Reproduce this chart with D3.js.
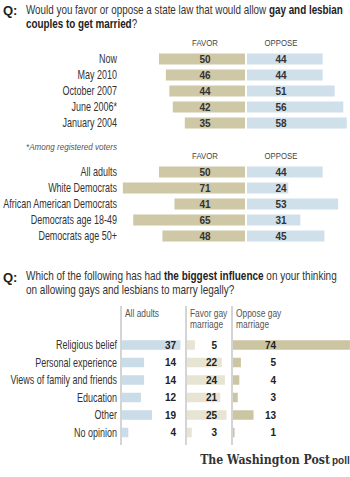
<!DOCTYPE html>
<html><head><meta charset="utf-8">
<script src="https://cdn.jsdelivr.net/npm/d3@7"></script>
<style>
body{margin:0;background:#fff;}
svg{display:block;}
text{font-family:"Liberation Sans",Arial,sans-serif;fill:#333;}
</style></head>
<body>
<script>
// ---- Data ----
const timeCategories = ["Now","May 2010","October 2007","June 2006*","January 2004"];
const timeFavor = [50,46,44,42,35];
const timeOppose = [44,44,51,56,58];

const groupCategories = ["All adults","White Democrats","African American Democrats","Democrats age 18-49","Democrats age 50+"];
const groupFavor = [50,71,41,65,48];
const groupOppose = [44,24,53,31,45];

const influenceCategories = ["Religious belief","Personal experience","Views of family and friends","Education","Other","No opinion"];
const influenceAll = [37,14,14,12,19,4];
const influenceFavor = [5,22,24,21,25,3];
const influenceOppose = [74,5,4,3,13,1];

const topHeaders = ["FAVOR","OPPOSE"];
const bottomHeaders = [["All adults"],["Favor gay","marriage"],["Oppose gay","marriage"]];

// ---- Setup ----
const W=350,H=477;
const svg=d3.select("body").append("svg").attr("width",W).attr("height",H);

const cFavor="#cec8a7", cOppose="#d0e0ea";
const cAll="#cadce8", cFavLight="#e7e4d3", cOppDark="#cbc5a2";

function squeeze(t,f,ax){t.attr("transform",`translate(${ax},0) scale(${f},1) translate(${-ax},0)`);return t;}
function widthOf(t){return t.node().getComputedTextLength();}

const LFS=13;
const probe=svg.append("text").attr("font-size",LFS).text("African American Democrats");
const LF=114/widthOf(probe); probe.remove();

// Title 1
svg.append("text").attr("x",3).attr("y",15).attr("font-size",13).attr("font-weight","bold").style("fill","#222").text("Q:");
let t1=svg.append("text").attr("x",26).attr("y",14).attr("font-size",12.5);
t1.append("tspan").text("Would you favor or oppose a state law that would allow ");
t1.append("tspan").attr("font-weight","bold").style("fill","#222").text("gay and lesbian");
const TF=317/widthOf(t1);
squeeze(t1,TF,26);
let t1b=svg.append("text").attr("x",26).attr("y",28).attr("font-size",12.5);
t1b.append("tspan").attr("font-weight","bold").style("fill","#222").text("couples to get married");
t1b.append("tspan").text("?");
squeeze(t1b,TF,26);

// ---- Top butterfly charts ----
const xTop=d3.scaleLinear().domain([0,100]).range([0,172]);
const midL=245, midR=247;
const barH=11;

function butterfly(y0,cats,fav,opp,headerY){
  const y=d3.scalePoint().domain(cats).range([y0,y0+16*(cats.length-1)]);
  svg.selectAll(null).data(topHeaders).enter().append("text")
    .attr("x",(d,i)=>i?281:205).attr("y",headerY).attr("text-anchor","middle")
    .attr("font-size",9.5).style("fill","#444").text(d=>d)
    .each(function(d,i){squeeze(d3.select(this),0.82,i?281:205);});
  const g=svg.append("g");
  g.selectAll(".lab").data(cats).enter().append("text")
    .attr("x",117).attr("y",d=>y(d)+4.5).attr("text-anchor","end").attr("font-size",LFS).text(d=>d)
    .each(function(){squeeze(d3.select(this),LF,117);});
  g.selectAll(".fb").data(fav).enter().append("rect")
    .attr("x",d=>midL-xTop(d)).attr("y",(d,i)=>y(cats[i])-barH/2).attr("width",d=>xTop(d)).attr("height",barH).attr("fill",cFavor);
  g.selectAll(".ob").data(opp).enter().append("rect")
    .attr("x",midR).attr("y",(d,i)=>y(cats[i])-barH/2).attr("width",d=>xTop(d)).attr("height",barH).attr("fill",cOppose);
  g.selectAll(".fv").data(fav).enter().append("text")
    .attr("x",205).attr("y",(d,i)=>y(cats[i])+3.5).attr("text-anchor","middle").attr("font-size",10).attr("font-weight","bold")
    .style("fill","#333").text(d=>d);
  g.selectAll(".ov").data(opp).enter().append("text")
    .attr("x",281).attr("y",(d,i)=>y(cats[i])+3.5).attr("text-anchor","middle").attr("font-size",10).attr("font-weight","bold")
    .style("fill","#333").text(d=>d);
}
butterfly(59,timeCategories,timeFavor,timeOppose,46);
squeeze(svg.append("text").attr("x",117).attr("y",150).attr("text-anchor","end").attr("font-size",9.5).attr("font-style","italic")
  .style("fill","#555").text("*Among registered voters"),0.85,117);
butterfly(172,groupCategories,groupFavor,groupOppose,159);

// Title 2
svg.append("text").attr("x",3).attr("y",282).attr("font-size",13).attr("font-weight","bold").style("fill","#222").text("Q:");
let t2=svg.append("text").attr("x",26).attr("y",280).attr("font-size",12.5);
t2.append("tspan").text("Which of the following has had ");
t2.append("tspan").attr("font-weight","bold").style("fill","#222").text("the biggest influence");
t2.append("tspan").text(" on your thinking");
const TF2=311/widthOf(t2);
squeeze(t2,TF2,26);
squeeze(svg.append("text").attr("x",26).attr("y",294).attr("font-size",12.5).text("on allowing gays and lesbians to marry legally?"),TF2,26);

// ---- Bottom chart ----
const xB=d3.scaleLinear().domain([0,100]).range([0,158]);
const yB=d3.scalePoint().domain(influenceCategories).range([345,432.5]);
const colX=[121,186,232];
const bh=9.5;
svg.selectAll(".vl").data(colX).enter().append("line")
  .attr("x1",d=>d).attr("x2",d=>d).attr("y1",306).attr("y2",445).attr("stroke","#aaa").attr("stroke-width",1);
bottomHeaders.forEach((lines,i)=>{
  const ax=colX[i]+4;
  const t=svg.append("text").attr("x",ax).attr("y",317).attr("font-size",10.5).style("fill","#555");
  lines.forEach((l,j)=>t.append("tspan").attr("x",ax).attr("dy",j?11.5:0).text(l));
  squeeze(t,0.8,ax);
});
svg.selectAll(".bl").data(influenceCategories).enter().append("text")
  .attr("x",117).attr("y",d=>yB(d)+4.5).attr("text-anchor","end").attr("font-size",LFS).text(d=>d)
  .each(function(){squeeze(d3.select(this),LF,117);});

const cols=[
  {vals:influenceAll,color:cAll,x0:122,numX:176},
  {vals:influenceFavor,color:cFavLight,x0:187,numX:217},
  {vals:influenceOppose,color:cOppDark,x0:233,numX:276}
];
cols.forEach(c=>{
  svg.append("g").selectAll("rect").data(c.vals).enter().append("rect")
    .attr("x",c.x0).attr("y",(d,i)=>yB(influenceCategories[i])-bh/2).attr("width",d=>xB(d)).attr("height",bh).attr("fill",c.color);
  svg.append("g").selectAll("text").data(c.vals).enter().append("text")
    .attr("x",c.numX).attr("y",(d,i)=>yB(influenceCategories[i])+3.5).attr("text-anchor","end").attr("font-size",10).attr("font-weight","bold")
    .style("fill","#222").text(d=>d);
});

// Credit
const cr=svg.append("text").attr("x",330).attr("y",464).attr("text-anchor","end")
  .attr("font-size",13.5).attr("font-weight","bold").style("font-family","'DejaVu Serif',serif").style("fill","#333").text("The Washington Post");
squeeze(cr,130/widthOf(cr),330);
svg.append("text").attr("x",332).attr("y",464).attr("font-size",10).attr("font-weight","bold").style("fill","#333").text("poll");
</script>
</body></html>
